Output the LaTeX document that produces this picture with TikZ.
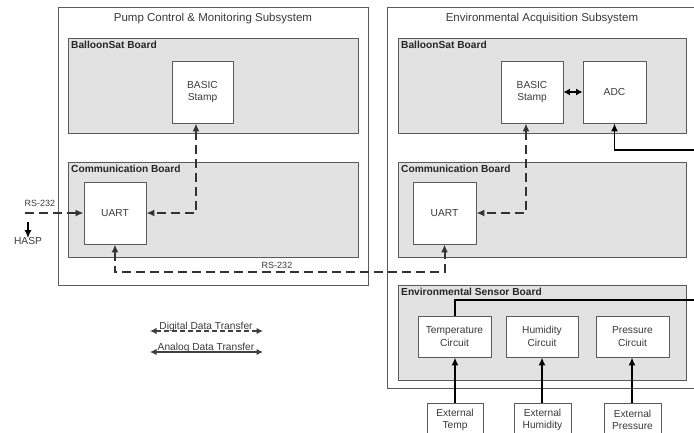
\documentclass[tikz,border=0pt]{standalone}
\usepackage{fontspec}
\setmainfont{Liberation Sans}
\usetikzlibrary{arrows.meta,calc}

\definecolor{edgegray}{HTML}{5A5A5A}
\definecolor{boardfill}{HTML}{E2E2E2}
\definecolor{inkgray}{HTML}{3A3A3A}

\tikzset{
  subsys/.style={draw=edgegray, line width=0.85pt, fill=white},
  board/.style={draw=edgegray, line width=0.85pt, fill=boardfill},
  unit/.style={draw=edgegray, line width=0.85pt, fill=white, align=center,
    inner sep=0pt, font=\fontsize{10.2}{12.5}\selectfont, text=inkgray},
  boardlbl/.style={anchor=north west, inner sep=0pt, font=\fontsize{10.2}{12}\bfseries, text=black!85},
  titlelbl/.style={inner sep=0pt, font=\fontsize{11.5}{13}\selectfont, text=inkgray},
  smalllbl/.style={inner sep=0pt, font=\fontsize{9}{11}\selectfont, text=inkgray},
  tip/.style={-{Latex[length=8pt,width=7pt]}},
  dashline/.style={line width=2pt, draw=black!80, dash pattern=on 9pt off 5pt},
  dig/.style={dashline,
    {Latex[length=8pt,width=7pt]}-{Latex[length=8pt,width=7pt]}},
  ana/.style={line width=1.8pt, draw=black},
}

\begin{document}
\begin{tikzpicture}[x=1pt,y=-1pt]
\useasboundingbox (0,0) rectangle (694,432);
\clip (0,0) rectangle (694,432);

% subsystem frames
\draw[subsys] (58,7) rectangle (368,285);
\node[titlelbl] (titleL) at (213,19) {Pump Control \& Monitoring Subsystem};
\draw[subsys] (387,7) rectangle (700,388);
\node[titlelbl] (titleR) at (542,19) {Environmental Acquisition Subsystem};

% boards
\draw[board] (68,38) rectangle (358,133);
\node[boardlbl] (bsLlbl) at (71,41) {BalloonSat Board};
\draw[board] (68,162) rectangle (358,257);
\node[boardlbl] (cbLlbl) at (71,165) {Communication Board};
\draw[board] (398,38) rectangle (686,133);
\node[boardlbl] (bsRlbl) at (401,41) {BalloonSat Board};
\draw[board] (398,162) rectangle (686,257);
\node[boardlbl] (cbRlbl) at (401,165) {Communication Board};
\draw[board] (398,285) rectangle (686,380);
\node[boardlbl] (esblbl) at (401,288) {Environmental Sensor Board};

% units
\node[unit, minimum width=61pt, minimum height=62pt] (stampL) at (202.5,92) {BASIC\\Stamp};
\node[unit, minimum width=62pt, minimum height=62pt] (uartL) at (115,213) {UART};
\node[unit, minimum width=62pt, minimum height=62pt] (stampR) at (532,92) {BASIC\\Stamp};
\node[unit, minimum width=63pt, minimum height=62pt] (adc) at (614.5,92) {ADC};
\node[unit, minimum width=63pt, minimum height=62pt] (uartR) at (444.5,213) {UART};
\node[unit, minimum width=73pt, minimum height=41pt] (tempC) at (454.5,336.5) {Temperature\\Circuit};
\node[unit, minimum width=72pt, minimum height=41pt] (humC) at (542,336.5) {Humidity\\Circuit};
\node[unit, minimum width=73pt, minimum height=41pt] (presC) at (632.5,336.5) {Pressure\\Circuit};
\node[unit, minimum width=56pt, minimum height=33pt, anchor=north] (extT) at (455,403) {External\\Temp};
\node[unit, minimum width=57pt, minimum height=33pt, anchor=north] (extH) at (542.5,403) {External\\Humidity};
\node[unit, minimum width=57pt, minimum height=33pt, anchor=north] (extP) at (632.5,403) {External\\Pressure};

% guide coordinates for off-centre connectors
\coordinate (xsL) at (196,0);
\coordinate (xsR) at (526,0);
\coordinate (xT) at (455,0);
\coordinate (xH) at (542,0);
\coordinate (xP) at (632,0);
\coordinate (haspIn) at (25,213);
\coordinate (haspTop) at (28,222);
\coordinate (adcOut) at (700,150);
\coordinate (busEnd) at (700,300);

% digital links
\draw[dig] (stampL.south -| xsL) |- (uartL.east);
\draw[dashline, tip] (haspIn) -- (uartL.west);
\node[smalllbl] (rsIn) at (40,203) {RS-232};
\node[smalllbl, font=\fontsize{10.2}{12}\selectfont] (hasp) at (28,241) {HASP};
\draw[line width=1.8pt, tip] (haspTop) -- ([yshift=-1pt]hasp.north);
\draw[dig] (uartL.south) -- ++(0,28) -| (uartR.south);
\node[smalllbl] (rsLink) at (277,265) {RS-232};
\draw[dig] (stampR.south -| xsR) |- (uartR.east);

% analog links
\draw[ana, {Latex[length=6.5pt,width=7pt]}-{Latex[length=6.5pt,width=7pt]}] (stampR.east) -- (adc.west);
\draw[ana, {Latex[length=8pt,width=7pt]}-] (adc.south) |- (adcOut);
\draw[ana] (tempC.north -| xT) |- (busEnd);
\draw[ana] (humC.north -| xH) -- (humC.north -| xH |- busEnd);
\draw[ana] (presC.north -| xP) -- (presC.north -| xP |- busEnd);
\draw[ana, tip] (extT.north -| xT) -- (tempC.south -| xT);
\draw[ana, tip] (extH.north -| xH) -- (humC.south -| xH);
\draw[ana, tip] (extP.north -| xP) -- (presC.south -| xP);

% legend
\coordinate (lgDa) at (150,331);
\coordinate (lgDb) at (263,331);
\coordinate (lgAa) at (150,352);
\coordinate (lgAb) at (263,352);
\draw[line width=1.2pt, draw=black!75, dash pattern=on 5pt off 3pt,
  {Latex[length=6.5pt,width=6.5pt]}-{Latex[length=6.5pt,width=6.5pt]}] (lgDa) -- (lgDb);
\node[anchor=base, inner sep=0pt, font=\fontsize{10.2}{12}\selectfont, text=inkgray] (lgD) at (206,329.5) {Digital Data Transfer};
\draw[line width=1.2pt, draw=black!75,
  {Latex[length=6.5pt,width=6.5pt]}-{Latex[length=6.5pt,width=6.5pt]}] (lgAa) -- (lgAb);
\node[anchor=base, inner sep=0pt, font=\fontsize{10.2}{12}\selectfont, text=inkgray] (lgA) at (206,350.5) {Analog Data Transfer};
\end{tikzpicture}
\end{document}
